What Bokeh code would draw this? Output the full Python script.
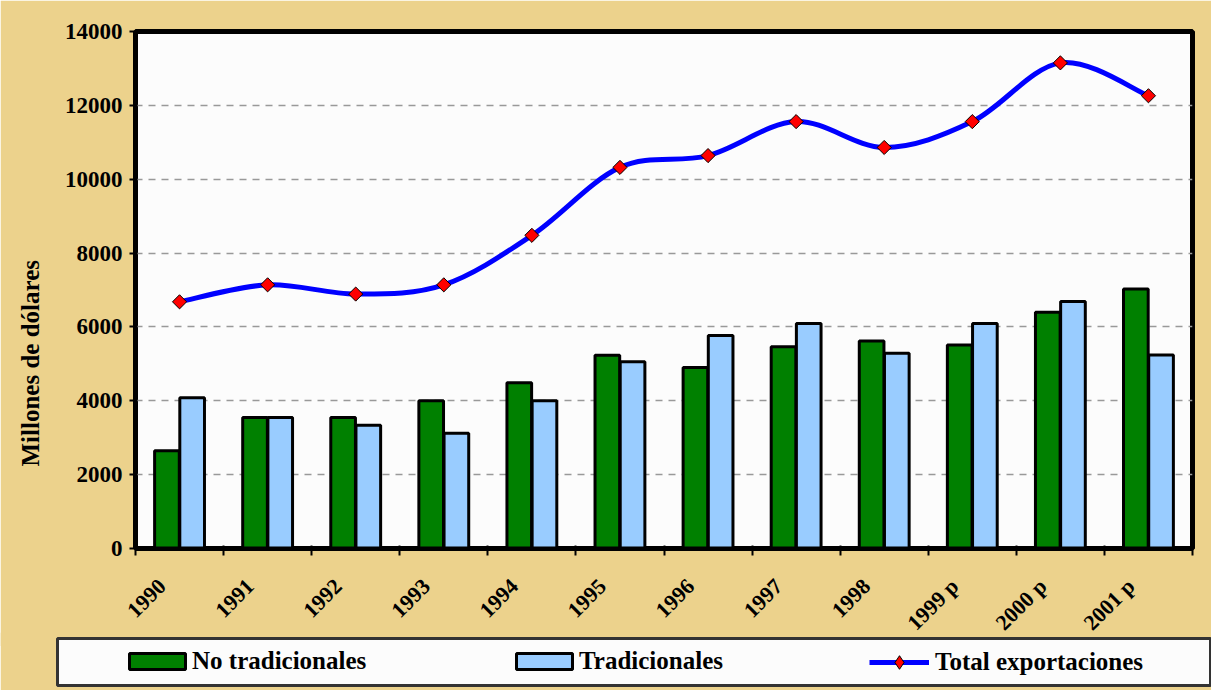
import numpy as np
from bokeh.plotting import figure
from bokeh.models import (Range1d, FixedTicker, SingleIntervalTicker, ColumnDataSource,
                          Legend, LegendItem, Title)
from bokeh.layouts import column, row
from bokeh.embed import file_html
from bokeh.resources import INLINE

# ---------------- data ----------------
years = ["1990", "1991", "1992", "1993", "1994", "1995", "1996", "1997",
         "1998", "1999 p", "2000 p", "2001 p"]
no_tradicionales = [2650, 3550, 3550, 4000, 4490, 5230, 4900, 5460, 5620, 5510, 6400, 7030]
tradicionales = [4080, 3550, 3340, 3120, 4000, 5060, 5770, 6090, 5290, 6090, 6690, 5240]
total_exportaciones = [6680, 7140, 6890, 7140, 8480, 10320, 10640, 11560, 10860, 11560, 13150, 12260]

y_title = "Millones de dólares"
legend_labels = ["No tradicionales", "Tradicionales", "Total exportaciones"]

# ---------------- style ----------------
TAN = "#ECD28C"
PLOT_BG = "#FCFCFC"
GREEN = "#008000"
LIGHTBLUE = "#99CCFF"
BLUE = "#0000FF"
RED = "#FF0000"
FONT = "Liberation Serif"
W = 1211

n = len(years)
xs = np.arange(n, dtype=float)

p = figure(width=W, height=646, x_range=Range1d(-0.5, n - 0.5), y_range=Range1d(0, 14000),
           output_backend="svg", toolbar_location=None,
           min_border_left=133, min_border_right=19, min_border_top=31, min_border_bottom=97)
p.border_fill_color = TAN
p.background_fill_color = PLOT_BG
p.outline_line_color = "black"
p.outline_line_width = 5

# grid
p.xgrid.visible = False
p.ygrid.grid_line_color = "#999999"
p.ygrid.grid_line_width = 1.5
p.ygrid.grid_line_dash = "7 6"

# y axis
p.yaxis.ticker = SingleIntervalTicker(interval=2000)
p.yaxis.axis_line_width = 4
p.yaxis.axis_line_color = "black"
p.yaxis.major_tick_line_width = 2
p.yaxis.major_tick_out = 6
p.yaxis.major_tick_in = 0
p.yaxis.minor_tick_line_color = None
p.yaxis.major_label_text_font = FONT
p.yaxis.major_label_text_font_style = "bold"
p.yaxis.major_label_text_font_size = "23px"
p.yaxis.major_label_text_color = "black"
p.yaxis.major_label_standoff = 7

# x axis: labels slightly left of category centres, tick marks on boundaries
label_pos = [float(i) - 0.2 for i in range(n)]
boundaries = [i - 0.5 for i in range(n + 1)]
p.xaxis.ticker = FixedTicker(ticks=label_pos, minor_ticks=boundaries)
p.xaxis.major_label_overrides = {pos: lab for pos, lab in zip(label_pos, years)}
p.xaxis.major_tick_line_color = None
p.xaxis.major_tick_out = 0
p.xaxis.major_tick_in = 0
p.xaxis.minor_tick_line_color = "black"
p.xaxis.minor_tick_line_width = 2
p.xaxis.minor_tick_out = 7
p.xaxis.minor_tick_in = 3
p.xaxis.axis_line_width = 4
p.xaxis.axis_line_color = "black"
p.xaxis.major_label_orientation = np.pi / 4
p.xaxis.major_label_text_font = FONT
p.xaxis.major_label_text_font_style = "bold"
p.xaxis.major_label_text_font_size = "22px"
p.xaxis.major_label_text_color = "black"
p.xaxis.major_label_standoff = 27

p.add_layout(Title(text=y_title, align="left", offset=82, vertical_align="top", standoff=32,
                   text_font=FONT, text_font_size="25px", text_font_style="bold",
                   text_color="black"), "left")

# bars
bw = 0.28
off = 0.143
p.vbar(x=xs - off, top=no_tradicionales, width=bw, fill_color=GREEN,
       line_color="black", line_width=3)
p.vbar(x=xs + off, top=tradicionales, width=bw, fill_color=LIGHTBLUE,
       line_color="black", line_width=3)

# smoothed total line (cubic bezier segments through the data points)
P = np.column_stack([xs, np.array(total_exportaciones, dtype=float)])
Pm = np.vstack([P[0], P, P[-1]])
c0 = Pm[1:-2] + (Pm[2:-1] - Pm[0:-3]) / 6.0
c1 = Pm[2:-1] - (Pm[3:] - Pm[1:-2]) / 6.0
bz = ColumnDataSource(dict(x0=P[:-1, 0], y0=P[:-1, 1], x1=P[1:, 0], y1=P[1:, 1],
                           cx0=c0[:, 0], cy0=c0[:, 1], cx1=c1[:, 0], cy1=c1[:, 1]))
p.bezier(x0="x0", y0="y0", x1="x1", y1="y1", cx0="cx0", cy0="cy0",
         cx1="cx1", cy1="cy1", source=bz, line_color=BLUE, line_width=5)
p.scatter(x=xs, y=total_exportaciones, marker="square", angle=np.pi / 4, size=10,
          fill_color=RED, line_color="black", line_width=1)

# ---------------- legend strip (its frame is the legend box) ----------------
q = figure(width=W, height=58, x_range=Range1d(-0.5, n - 0.5), y_range=Range1d(0, 14000),
           output_backend="svg", toolbar_location=None,
           x_axis_location=None, y_axis_location=None,
           min_border_left=57, min_border_right=1, min_border_top=6, min_border_bottom=5)
q.grid.visible = False
q.border_fill_color = TAN
q.background_fill_color = PLOT_BG
q.outline_line_color = "#333333"
q.outline_line_width = 3

# legend proxies: same series and styles, hidden in the strip
l1 = q.vbar(x=xs, top=no_tradicionales, width=bw, fill_color=GREEN,
            line_color="black", line_width=3, visible=False)
l2 = q.vbar(x=xs, top=tradicionales, width=bw, fill_color=LIGHTBLUE,
            line_color="black", line_width=3, visible=False)
l3 = q.line(x=xs, y=total_exportaciones, line_color=BLUE, line_width=5, visible=False)
l4 = q.scatter(x=xs, y=total_exportaciones, marker="diamond", size=10,
               fill_color=RED, line_color="black", line_width=1, visible=False)


def add_leg(label, renderers, x, y, gw, gh, standoff):
    lg = Legend(items=[LegendItem(label=label, renderers=renderers)], location=(x, y),
                orientation="horizontal", glyph_width=gw, glyph_height=gh, label_height=gh,
                label_standoff=standoff, padding=0, margin=0, spacing=0,
                border_line_alpha=0, background_fill_alpha=0,
                label_text_font=FONT, label_text_font_size="25px",
                label_text_font_style="bold", label_text_color="black")
    q.add_layout(lg)


add_leg(legend_labels[0], [l1], 65, 10, 70, 20, 0)
add_leg(legend_labels[1], [l2], 452, 10, 70, 20, 0)
add_leg(legend_labels[2], [l3, l4], 812, 6, 60, 34, 6)

layout = column(p, row(q, margin=(-14, 0, 0, 0)), spacing=0)
open("out.html", "w").write(file_html(layout, INLINE))
